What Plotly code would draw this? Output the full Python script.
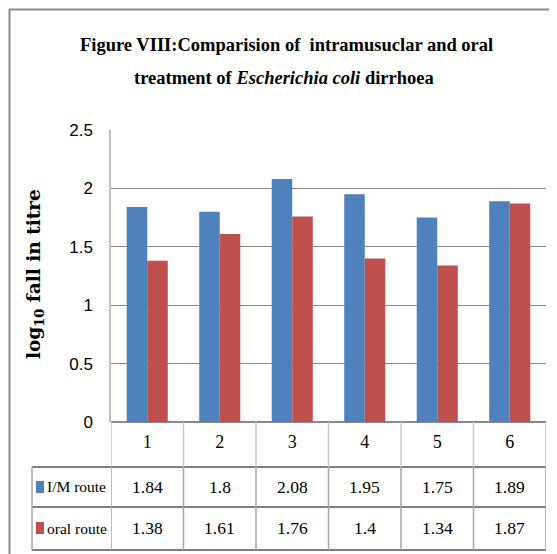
import plotly.graph_objects as go

# ---------------- data ----------------
categories = ["1", "2", "3", "4", "5", "6"]
im_route = [1.84, 1.8, 2.08, 1.95, 1.75, 1.89]
oral_route = [1.38, 1.61, 1.76, 1.4, 1.34, 1.87]
series_names = ["I/M route", "oral route"]
y_ticks = [0, 0.5, 1, 1.5, 2, 2.5]

# ---------------- geometry / style ----------------
OFF = 8  # page body margin
W, H = 557 - OFF, 554 - OFF
L, R, T, B = 111 - OFF, 11, 130 - OFF, 132
PW, PH = W - L - R, H - T - B
BLUE, RED = "#4F81BD", "#C0504D"
SERIF = "Liberation Serif, Times New Roman, serif"
NARROW = "Liberation Sans Narrow, Arial Narrow, Liberation Sans, sans-serif"


def px_x(px):
    return (px - OFF - L) / PW


def px_y(py):
    return (H - B - (py - OFF)) / PH


fig = go.Figure()
fig.add_trace(go.Bar(x=categories, y=im_route, name=series_names[0],
                     marker=dict(color=BLUE, line=dict(width=0))))
fig.add_trace(go.Bar(x=categories, y=oral_route, name=series_names[1],
                     marker=dict(color=RED, line=dict(width=0))))

shapes = []
row_lines = [467, 507, 550]
legend_left = px_x(32)
for py in row_lines:
    shapes.append(dict(type="line", xref="paper", yref="paper",
                       x0=legend_left, x1=1, y0=px_y(py), y1=px_y(py),
                       line=dict(color="#808080", width=2)))
for i in range(len(categories) + 1):
    xv = i - 0.5
    shapes.append(dict(type="line", xref="x", yref="paper", x0=xv, x1=xv,
                       y0=0, y1=px_y(467), line=dict(color="#c8c8c8", width=1.5)))
    shapes.append(dict(type="line", xref="x", yref="paper", x0=xv, x1=xv,
                       y0=px_y(467), y1=px_y(550), line=dict(color="#a6a6a6", width=1.5)))
shapes.append(dict(type="line", xref="paper", yref="paper", x0=legend_left, x1=legend_left,
                   y0=px_y(467), y1=px_y(550), line=dict(color="#a6a6a6", width=1.5)))
# outer frame (as close to the page edge as the page margin allows)
shapes.append(dict(type="rect", xref="paper", yref="paper",
                   x0=px_x(OFF + 1.5), x1=px_x(620), y0=px_y(OFF + 1.5), y1=px_y(620),
                   line=dict(color="#8c8c8c", width=2)))

annotations = []
row_centers = [487, 528]
for series, vals, color, cy in zip(series_names, [im_route, oral_route], [BLUE, RED], row_centers):
    shapes.append(dict(type="rect", xref="paper", yref="paper",
                       x0=px_x(36), x1=px_x(44), y0=px_y(cy - 6), y1=px_y(cy + 6),
                       fillcolor=color, line=dict(width=0)))
    annotations.append(dict(x=px_x(45), y=px_y(cy), xref="paper", yref="paper",
                            text=series, showarrow=False, xanchor="left", yanchor="middle",
                            font=dict(family=SERIF, size=15.5, color="#000")))
    for i, v in enumerate(vals):
        annotations.append(dict(x=i, y=px_y(cy), xref="x", yref="paper", text=str(v),
                                showarrow=False, xanchor="center", yanchor="middle",
                                font=dict(family=SERIF, size=17.5, color="#000")))

annotations.append(dict(x=px_x(35), y=px_y(274), xref="paper", yref="paper",
                        text="<b>log<sub>10</sub> fall in titre</b>", textangle=-90,
                        showarrow=False, xanchor="center", yanchor="middle",
                        font=dict(family="DejaVu Serif, serif", size=18.5, color="#000")))

title_lines = [("<b>Figure VIII:Comparision of  intramusuclar and oral</b>", 286, 45),
               ("<b>treatment of <i>Escherichia coli</i> dirrhoea</b>", 284, 78)]
for txt, cx, cy in title_lines:
    annotations.append(dict(x=px_x(cx), y=px_y(cy), xref="paper", yref="paper",
                            text=txt, showarrow=False, xanchor="center", yanchor="middle",
                            font=dict(family=SERIF, size=18.5, color="#000")))

fig.update_layout(
    width=W, height=H,
    margin=dict(l=L, r=R, t=T, b=B),
    paper_bgcolor="white", plot_bgcolor="white",
    showlegend=False,
    barmode="group", bargap=0.434, bargroupgap=0,
    xaxis=dict(type="category", range=[-0.5, len(categories) - 0.5],
               showgrid=False, showline=False, zeroline=False, ticks="",
               ticklabelstandoff=7,
               tickfont=dict(family=SERIF, size=18, color="#000")),
    yaxis=dict(range=[0, 2.5], tickvals=y_ticks, showgrid=True,
               gridcolor="#8a8a8a", gridwidth=1, zeroline=True, zerolinecolor="#8a8a8a",
               zerolinewidth=1.5, showline=True, linecolor="#c0c0c0", linewidth=1.5,
               ticks="", ticklabelstandoff=13,
               tickfont=dict(family=NARROW, size=17, color="#000")),
    shapes=shapes,
    annotations=annotations,
)

fig.write_html("out.html")
